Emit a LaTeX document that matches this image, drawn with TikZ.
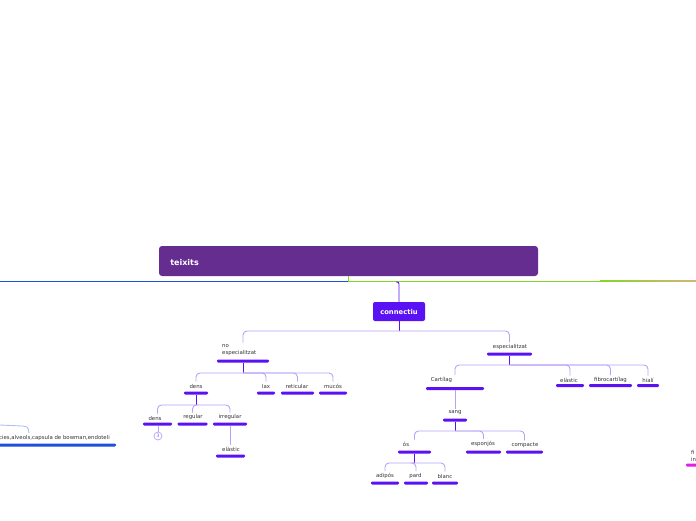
\documentclass[tikz,border=0pt]{standalone}
\usepackage{fontspec}
\setmainfont{DejaVu Sans}
\usepackage{tikz}
\usetikzlibrary{calc}
\definecolor{titlebg}{HTML}{662D91}
\definecolor{topic}{HTML}{5A12F5}
\definecolor{linkc}{HTML}{B8A2F8}
\definecolor{bluebar}{HTML}{1F4FDD}
\definecolor{greenline}{HTML}{86D62A}
\definecolor{tanline}{HTML}{D6B37A}
\definecolor{pinkbar}{HTML}{E01EE6}
\definecolor{lightblue}{HTML}{A9C2F4}
\definecolor{labeltext}{HTML}{333333}

\begin{document}
\begin{tikzpicture}[x=1pt,y=-1pt,
    lbl/.style={font=\fontsize{5.4}{7}\selectfont,text=labeltext,inner sep=2pt},
    bar/.style={fill=topic,rounded corners=1.2pt,minimum height=3pt,inner sep=0pt},
    stem/.style={draw=topic,line width=0.9pt},
    link/.style={draw=linkc,line width=0.9pt,rounded corners=4pt}]
      \useasboundingbox (0,0) rectangle (696,520);
      \clip (0,0) rectangle (696,520);

      \node[fill=titlebg,rounded corners=3pt,minimum width=379pt,minimum height=30pt,inner sep=0pt] (title) at (348.5,261) {};
      \node[anchor=west,text=white,font=\bfseries\fontsize{8}{9}\selectfont] (titletxt) at ([yshift=-1.5pt]title.west) [xshift=8pt] {teixits};
      \draw[bluebar,line width=0.8pt] (0,281) -- (348,281);
      \draw[greenline,line width=0.8pt] (348,281) -- (600,281);
      \shade[left color=greenline,right color=tanline] (600,280.6) rectangle (696,281.4);
      \draw[greenline,line width=0.8pt] (title.south -| 348.5,0) -- (348.5,281);

      \node[fill=topic,rounded corners=2pt,minimum width=52pt,minimum height=19pt,text=white,font=\bfseries\fontsize{6.8}{8}\selectfont] (conn) at (399,311.5) {connectiu};
      \coordinate (root) at (396,282);
      \draw[stem,rounded corners=2pt] (root) -| (conn.north);

      \node[lbl,anchor=west,align=left] (nesp) at (220,350.5) {no\\especialitzat};
      \node[bar,minimum width=52pt] (nespb) at (243,361) {};
      \node[lbl] (esp) at (510,347) {especialitzat};
      \node[bar,minimum width=45pt] (espb) at (509.5,354) {};
      \draw[stem] (conn.south) -- (conn.south |- 0,331);
      \draw[link] (conn.south |- 0,331) -| (nespb |- nesp.north);
      \draw[link] (conn.south |- 0,331) -| (espb |- esp.north);

      \node[lbl] (densa) at (196,386) {dens};
      \node[bar,minimum width=24pt] (densab) at (196,393) {};
      \node[lbl] (lax) at (266,386) {lax};
      \node[bar,minimum width=18pt] (laxb) at (266,393) {};
      \node[lbl] (retic) at (297,386) {reticular};
      \node[bar,minimum width=33pt] (reticb) at (297.5,393) {};
      \node[lbl] (mucos) at (333,386) {mucós};
      \node[bar,minimum width=28pt] (mucosb) at (333,393) {};
      \draw[stem] (nespb.south) -- (nespb.south |- 0,373);
      \foreach \c/\b in {densa/densab,lax/laxb,retic/reticb,mucos/mucosb}
        \draw[link] (nespb.south |- 0,373) -| (\b |- \c.north);

      \node[lbl] (densb) at (155,418) {dens};
      \node[bar,minimum width=29pt] (densbb) at (157.5,424) {};
      \node[lbl] (regul) at (193,417.5) {regular};
      \node[bar,minimum width=30pt] (regulb) at (192.5,424) {};
      \node[lbl] (irreg) at (230,417.5) {irregular};
      \node[bar,minimum width=34pt] (irregb) at (230,424) {};
      \draw[stem] (densab.south) -- (densab.south |- 0,405);
      \foreach \c/\b in {densb/densbb,regul/regulb,irreg/irregb}
        \draw[link] (densab.south |- 0,405) -| (\b |- \c.north);
      \node[circle,draw=linkc,line width=0.7pt,minimum size=8pt,inner sep=0pt,text=topic!70,font=\fontsize{4.6}{5}\selectfont] (cnt) at (158,436) {3};
      \draw[link] (densbb.south -| cnt.north) -- (cnt.north);

      \node[lbl] (elasa) at (231,449) {elàstic};
      \node[bar,minimum width=29pt] (elasab) at (230.5,456) {};
      \draw[link] (irregb.south) -- (irregb |- elasa.north);

      \node[lbl] (cart) at (441.5,380) {Cartílag};
      \node[bar,minimum width=58pt] (cartb) at (455,388.5) {};
      \node[lbl] (elasb) at (569,380) {elàstic};
      \node[bar,minimum width=28pt] (elasbb) at (570,385.5) {};
      \node[lbl] (fibro) at (610.5,380) {fibrocartílag};
      \node[bar,minimum width=43pt] (fibrob) at (610.5,385.5) {};
      \node[lbl] (hiali) at (648,380) {hialí};
      \node[bar,minimum width=22pt] (hialib) at (648,385.5) {};
      \draw[stem] (espb.south) -- (espb.south |- 0,365);
      \foreach \c/\b in {cart/cartb,elasb/elasbb,fibro/fibrob,hiali/hialib}
        \draw[link] (espb.south |- 0,365) -| (\b |- \c.north);

      \node[lbl] (sang) at (455,413) {sang};
      \node[bar,minimum width=24pt] (sangb) at (455,420) {};
      \draw[link] (cartb.south) -- (sang.north);

      \node[lbl] (os) at (406,444) {ós};
      \node[bar,minimum width=33pt] (osb) at (414.5,452) {};
      \node[lbl] (espon) at (483,444) {esponjós};
      \node[bar,minimum width=35pt] (esponb) at (483.5,452) {};
      \node[lbl] (compa) at (525,445) {compacte};
      \node[bar,minimum width=37pt] (compab) at (524.5,452) {};
      \draw[stem] (sangb.south) -- (sangb.south |- 0,431);
      \foreach \c/\b in {os/osb,espon/esponb,compa/compab}
        \draw[link] (sangb.south |- 0,431) -| (\b |- \c.north);

      \node[lbl] (adip) at (385,476) {adipós};
      \node[bar,minimum width=28pt] (adipb) at (385,483) {};
      \node[lbl] (pard) at (415.5,476) {pard};
      \node[bar,minimum width=24pt] (pardb) at (416,483) {};
      \node[lbl] (blanc) at (445,476) {blanc};
      \node[bar,minimum width=26pt] (blancb) at (445,483) {};
      \draw[stem] (osb.south) -- (osb.south |- 0,463);
      \foreach \c/\b in {adip/adipb,pard/pardb,blanc/blancb}
        \draw[link] (osb.south |- 0,463) -| (\b |- \c.north);

      \node[lbl,anchor=east] (bowm) at (112,438) {cies,alveols,capsula de bowman,endoteli};
      \node[fill=bluebar,rounded corners=1.2pt,minimum width=120pt,minimum height=3pt,inner sep=0pt] (bowmb) at (56,445) {};
      \coordinate (offl) at (0,425);
      \draw[lightblue,line width=0.9pt] (offl) -- (22,426) .. controls (28,426.5) .. (bowm.north -| 29,0);

      \node[lbl,anchor=west,align=left] (fib) at (689,455.5) {fi\\in};
      \node[fill=pinkbar,rounded corners=1.2pt,minimum width=16pt,minimum height=3pt,inner sep=0pt] (fibb) at (694,465) {};
    \end{tikzpicture}
\end{document}
